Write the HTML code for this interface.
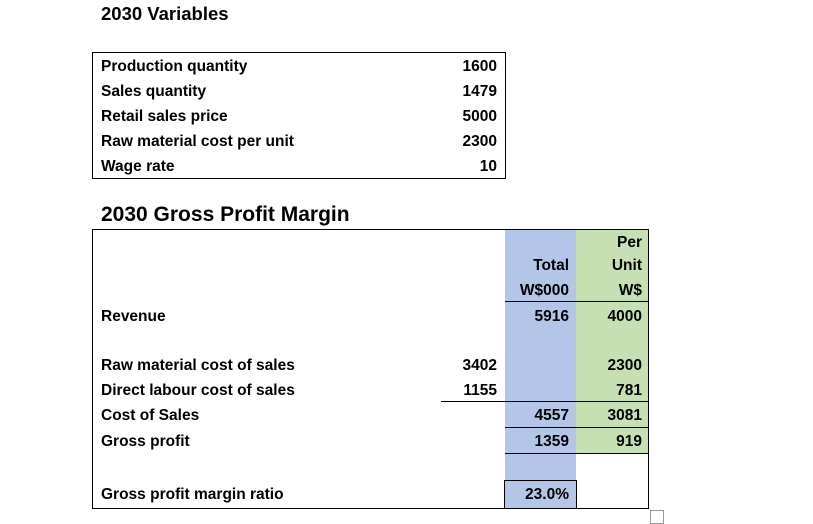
<!DOCTYPE html>
<html><head><meta charset="utf-8"><style>
body{margin:0;width:813px;height:523px;background:#fff;position:relative;overflow:hidden;font-family:"Liberation Sans",Arial,sans-serif;color:#000}
.t{position:absolute;font-weight:bold;font-size:15.5px;line-height:18px;white-space:nowrap}
.r{text-align:right}
.box{position:absolute;box-sizing:border-box}
.hl{position:absolute;height:1px;background:#000}
</style></head><body>
<div class="t" style="left:101px;top:4px;font-size:18.5px;line-height:20px">2030 Variables</div>
<div class="box" style="left:92px;top:52px;width:414px;height:127px;border:1px solid #000"></div>
<div class="t" style="left:101px;top:58px">Production quantity</div>
<div class="t r" style="right:316px;top:58px">1600</div>
<div class="t" style="left:101px;top:83px">Sales quantity</div>
<div class="t r" style="right:316px;top:83px">1479</div>
<div class="t" style="left:101px;top:108px">Retail sales price</div>
<div class="t r" style="right:316px;top:108px">5000</div>
<div class="t" style="left:101px;top:133px">Raw material cost per unit</div>
<div class="t r" style="right:316px;top:133px">2300</div>
<div class="t" style="left:101px;top:158px">Wage rate</div>
<div class="t r" style="right:316px;top:158px">10</div>

<div class="t" style="left:101px;top:204px;font-size:21px;line-height:22px">2030 Gross Profit Margin</div>
<div class="box" style="left:505px;top:229px;width:71px;height:252px;background:#b4c6e7"></div>
<div class="box" style="left:576px;top:229px;width:72px;height:224px;background:#c6e0b4"></div>
<div class="box" style="left:92px;top:229px;width:557px;height:280px;border:1px solid #000"></div>
<div class="hl" style="left:505px;top:301px;width:143px"></div>
<div class="hl" style="left:441px;top:401px;width:207px"></div>
<div class="hl" style="left:505px;top:427px;width:143px"></div>
<div class="hl" style="left:505px;top:453px;width:143px"></div>
<div class="box" style="left:504px;top:480px;width:73px;height:29px;background:#b4c6e7;border:1px solid #000"></div>

<div class="t r" style="right:171px;top:234px">Per</div>
<div class="t r" style="right:171px;top:257px">Unit</div>
<div class="t r" style="right:171px;top:282px">W$</div>
<div class="t r" style="right:244px;top:257px">Total</div>
<div class="t r" style="right:244px;top:282px">W$000</div>

<div class="t" style="left:101px;top:308px">Revenue</div>
<div class="t r" style="right:244px;top:308px">5916</div>
<div class="t r" style="right:171px;top:308px">4000</div>

<div class="t" style="left:101px;top:357px">Raw material cost of sales</div>
<div class="t r" style="right:316px;top:357px">3402</div>
<div class="t r" style="right:171px;top:357px">2300</div>

<div class="t" style="left:101px;top:382px">Direct labour cost of sales</div>
<div class="t r" style="right:316px;top:382px">1155</div>
<div class="t r" style="right:171px;top:382px">781</div>

<div class="t" style="left:101px;top:407px">Cost of Sales</div>
<div class="t r" style="right:244px;top:407px">4557</div>
<div class="t r" style="right:171px;top:407px">3081</div>

<div class="t" style="left:101px;top:433px">Gross profit</div>
<div class="t r" style="right:244px;top:433px">1359</div>
<div class="t r" style="right:171px;top:433px">919</div>

<div class="t" style="left:101px;top:486px">Gross profit margin ratio</div>
<div class="t r" style="right:244px;top:486px">23.0%</div>

<div class="box" style="left:650px;top:510px;width:14px;height:14px;border:1px solid #999;background:#fff"></div>
</body></html>
